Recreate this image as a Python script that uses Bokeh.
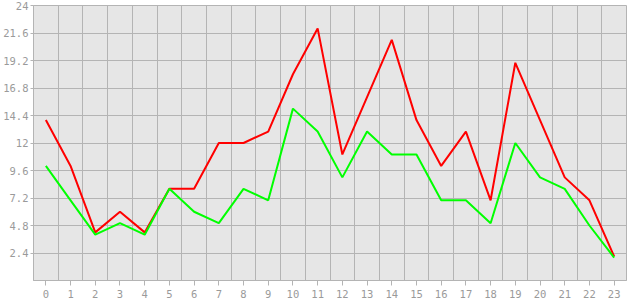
from bokeh.plotting import figure
from bokeh.models import FixedTicker, Range1d
from bokeh.embed import file_html
from bokeh.resources import INLINE

hours = list(range(24))
red_values = [14, 10, 4.2, 6, 4.2, 8, 8, 12, 12, 13, 18, 22, 11, 16, 21, 14, 10, 13, 7, 19, 14, 9, 7, 2.1]
green_values = [10, 7, 4, 5, 4, 8, 6, 5, 8, 7, 15, 13, 9, 13, 11, 11, 7, 7, 5, 12, 9, 8, 4.8, 2]
y_ticks = [2.4, 4.8, 7.2, 9.6, 12, 14.4, 16.8, 19.2, 21.6, 24]
y_tick_labels = ["2.4", "4.8", "7.2", "9.6", "12", "14.4", "16.8", "19.2", "21.6", "24"]
x_tick_labels = [str(h) for h in hours]

GRID = "#b4b4b4"
LABEL = "#9a9a9a"
FONT = "DejaVu Sans Mono"

p = figure(frame_width=593, frame_height=275, output_backend="svg", toolbar_location=None,
           x_range=Range1d(-0.5, 23.5), y_range=Range1d(0, 24),
           min_border_left=32, min_border_right=5, min_border_top=5, min_border_bottom=20)

p.background_fill_color = "#e6e6e6"
p.border_fill_color = "white"
p.outline_line_color = GRID
p.outline_line_width = 1

p.xaxis.ticker = FixedTicker(ticks=hours)
p.xaxis.major_label_overrides = {h: l for h, l in zip(hours, x_tick_labels)}
p.xgrid.ticker = FixedTicker(ticks=[h + 0.5 for h in hours[:-1]])
p.yaxis.ticker = FixedTicker(ticks=y_ticks)
p.yaxis.major_label_overrides = {t: l for t, l in zip(y_ticks, y_tick_labels)}
p.ygrid.ticker = FixedTicker(ticks=y_ticks)

for g in (p.xgrid, p.ygrid):
    g.grid_line_color = GRID
    g.grid_line_width = 1

for ax in (p.xaxis, p.yaxis):
    ax.axis_line_color = GRID
    ax.major_tick_line_color = GRID
    ax.minor_tick_line_color = None
    ax.major_tick_in = 0
    ax.major_label_text_color = LABEL
    ax.major_label_text_font = FONT
    ax.major_label_text_font_size = "10.5px"

p.xaxis.major_tick_out = 5
p.xaxis.major_label_standoff = 4
p.yaxis.major_tick_out = 3
p.yaxis.major_label_standoff = 2

p.line(hours, red_values, line_color="#ff0000", line_width=2)
p.line(hours, green_values, line_color="#00ff00", line_width=2)

open("out.html", "w").write(file_html(p, INLINE))
